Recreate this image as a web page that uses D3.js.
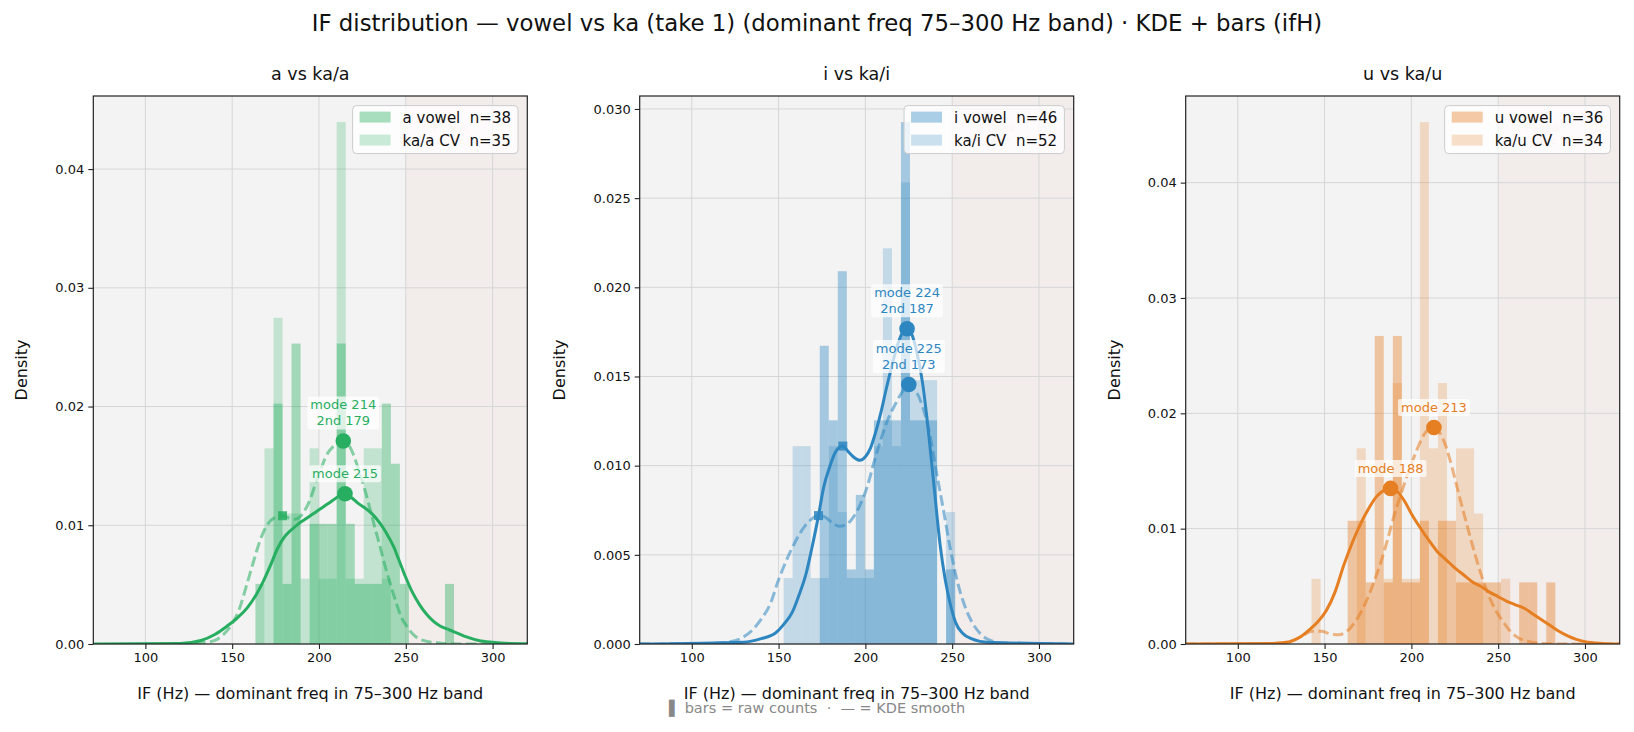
<!DOCTYPE html>
<html>
<head>
<meta charset="utf-8">
<script src="https://cdn.jsdelivr.net/npm/d3@7"></script>
<style>
  body { margin: 0; background: #fff; }
  svg { display: block; font-family: "DejaVu Sans", sans-serif; }
</style>
</head>
<body>
<svg id="chart"></svg>
<script>
// Figure size
var width = 1634;
var height = 732;

// Axes boxes (one per panel)
var axLeft = [93.3, 639.7, 1185.7];
var axTop = 96;
var axW = 434;
var axH = 548;

// ---- data ----
var suptitle = "IF distribution \u2014 vowel vs ka (take 1) (dominant freq 75\u2013300 Hz band) \u00b7 KDE + bars (ifH)";
var panelTitles = ["a vs ka/a", "i vs ka/i", "u vs ka/u"];
var vowelNames = ["a vowel", "i vowel", "u vowel"];
var cvNames = ["ka/a CV", "ka/i CV", "ka/u CV"];
var vowelN = [38, 46, 36];
var cvN = [35, 52, 34];
var seriesColors = ["#27ae60", "#2e86c1", "#e67e22"];
var xLabel = "IF (Hz) \u2014 dominant freq in 75\u2013300 Hz band";
var yLabel = "Density";
var footNote = "\u258c bars = raw counts  \u00b7  \u2014 = KDE smooth";

var hzDomain = [70, 320];
var xTicks = [100, 150, 200, 250, 300];
var yTicks = [
  [0, 0.01, 0.02, 0.03, 0.04],
  [0, 0.005, 0.01, 0.015, 0.02, 0.025, 0.03],
  [0, 0.01, 0.02, 0.03, 0.04]
];
var yTickFormat = [".2f", ".3f", ".2f"];
var f1Zone = [250, 320];

// histogram bins (Hz) and raw counts per bin
var binWidth = 5.2;
var binStart = [163.4, 152.9, 142.5];
var vowelCountsA = [1,0,4,1,5,0,2,2,2,5,2,1,1,1,4,3,1,0,0,0,0,1];
var cvCountsA    = [0,3,5,2,2,1,3,1,1,8,1,1,3,3,1,0,0,0,0,0,0,0];
var vowelCountsI = [0,0,0,0,4,3,5,1,2,1,3,3,3,7,3,3,3,0,1];
var cvCountsI    = [1,3,3,1,1,3,2,1,1,1,3,6,3,7,4,4,4,0,2];
var vowelCountsU = [0,0,0,0,2,2,1,5,1,5,1,1,2,0,2,2,1,1,1,1,1,0,0,1,1,0,1];
var cvCountsU    = [1,0,0,0,0,3,0,0,1,4,1,1,8,3,4,0,3,3,2,0,0,1,0,0,0,0,0];

// KDE curves, [Hz, density]
var kdeVowelA = [[70,0],[120,0.00005],[132,0.0003],[140,0.0008],[147,0.0015],[153,0.0022],[159,0.0031],[164,0.0042],[168,0.0053],[172,0.0066],[176,0.0080],[180,0.0090],[184,0.0096],[188,0.0101],[192,0.0105],[196,0.0109],[200,0.0113],[204,0.0117],[208,0.0121],[212,0.0125],[215,0.01266],[219,0.0123],[223,0.0118],[227,0.0114],[231,0.0109],[235,0.0102],[239,0.0093],[243,0.0082],[246,0.0071],[250,0.0056],[254,0.0043],[258,0.0033],[262,0.0025],[266,0.0019],[270,0.0015],[275,0.0012],[280,0.0009],[285,0.0006],[292,0.0003],[300,0.00015],[310,0.00005],[320,0.00002]];
var kdeCvA = [[120,0],[132,0.0001],[140,0.0003],[145,0.0008],[150,0.0017],[154,0.0029],[158,0.0048],[162,0.0068],[166,0.0087],[170,0.0100],[174,0.0106],[179,0.0108],[183,0.0106],[186,0.0105],[189,0.0107],[192,0.0113],[195,0.0122],[198,0.0135],[201,0.0147],[204,0.0158],[208,0.0166],[211,0.0169],[214,0.0171],[217,0.0168],[220,0.0159],[223,0.0146],[226,0.0132],[229,0.0116],[232,0.0099],[235,0.0083],[238,0.0066],[241,0.0051],[244,0.0037],[247,0.0024],[251,0.0014],[255,0.0007],[260,0.0003],[268,0.0001],[280,0],[320,0]];
var kdeVowelI = [[70,0],[130,0.0001],[140,0.0003],[148,0.0006],[153,0.0011],[158,0.0018],[162,0.0028],[166,0.0040],[169,0.0053],[173,0.0072],[176,0.0088],[179,0.0098],[183,0.0108],[187,0.0111],[190,0.0108],[193,0.0105],[197,0.0103],[200,0.0105],[203,0.0110],[206,0.0119],[209,0.0130],[212,0.0143],[215,0.0155],[218,0.0166],[221,0.0174],[224,0.01768],[227,0.0173],[230,0.0162],[233,0.0146],[236,0.0122],[240,0.0084],[243,0.0056],[246,0.0036],[249,0.0022],[252,0.0012],[256,0.0006],[261,0.0003],[270,0.0001],[320,0]];
var kdeCvI = [[70,0],[110,0.00003],[120,0.0001],[128,0.0003],[134,0.0007],[140,0.0014],[145,0.0022],[150,0.0036],[155,0.0048],[160,0.0058],[165,0.0066],[169,0.0070],[173,0.0072],[177,0.0071],[181,0.0068],[185,0.0066],[189,0.0067],[193,0.0071],[197,0.0078],[201,0.0088],[205,0.0102],[209,0.0115],[213,0.0126],[217,0.0134],[221,0.0141],[225,0.01455],[229,0.0142],[233,0.0133],[237,0.0118],[241,0.0096],[245,0.0075],[249,0.0053],[253,0.0035],[257,0.0022],[261,0.0013],[266,0.0006],[272,0.0002],[280,0.00005],[320,0]];
var kdeVowelU = [[70,0],[120,0.00005],[130,0.0002],[136,0.0006],[141,0.0012],[146,0.0019],[151,0.0029],[156,0.0045],[161,0.0068],[166,0.0088],[171,0.0105],[176,0.0119],[180,0.0128],[184,0.0133],[188,0.01349],[192,0.0132],[196,0.0124],[200,0.0113],[205,0.0101],[210,0.0090],[215,0.0080],[220,0.0073],[225,0.0066],[230,0.0060],[235,0.0054],[240,0.0050],[245,0.0045],[250,0.0041],[255,0.0037],[260,0.0034],[265,0.0031],[270,0.0026],[275,0.0021],[280,0.0016],[285,0.0011],[290,0.0007],[295,0.0004],[300,0.0002],[310,0.00005],[320,0]];
var kdeCvU = [[70,0],[110,0.00002],[125,0.0001],[133,0.0004],[138,0.0008],[143,0.0011],[148,0.0011],[153,0.0009],[158,0.0008],[162,0.0010],[166,0.0016],[170,0.0025],[174,0.0037],[178,0.0052],[182,0.0069],[186,0.0089],[190,0.0111],[194,0.0130],[198,0.0148],[202,0.0164],[206,0.0178],[209,0.0185],[213,0.01877],[216,0.0184],[219,0.0175],[222,0.0161],[225,0.0144],[228,0.0126],[231,0.0109],[234,0.0092],[237,0.0076],[240,0.0061],[243,0.0048],[246,0.0037],[249,0.0028],[253,0.0019],[257,0.0011],[262,0.0005],[268,0.0002],[275,0.00005],[285,0],[320,0]];

// modes (Hz) of each KDE, and secondary peaks (null = none)
var modeVowel = [215, 224, 188];
var secondVowel = [null, 187, null];
var modeCv = [214, 225, 213];
var secondCv = [179, 173, null];

var vowelCounts = [vowelCountsA, vowelCountsI, vowelCountsU];
var cvCounts = [cvCountsA, cvCountsI, cvCountsU];
var kdeVowel = [kdeVowelA, kdeVowelI, kdeVowelU];
var kdeCv = [kdeCvA, kdeCvI, kdeCvU];

// Appends SVG canvas
var svg = d3.select("#chart")
    .attr("width", width)
    .attr("height", height);

svg.append("rect").attr("width", width).attr("height", height).attr("fill", "#fff");

svg.append("text")
    .attr("x", 817).attr("y", 31)
    .attr("text-anchor", "middle")
    .style("font-size", "22.8px")
    .attr("fill", "#111")
    .text(suptitle);

// Turns counts into density bars (count / (n * binWidth))
function toBars(counts, start, n) {
  var bars = [];
  for (var k = 0; k < counts.length; k++) {
    if (counts[k] > 0) {
      bars.push({x0: start + k * binWidth, x1: start + (k + 1) * binWidth, d: counts[k] / (n * binWidth)});
    }
  }
  return bars;
}

// Looks up density of a KDE at a given Hz
function kdeAt(kde, hz) {
  for (var k = 1; k < kde.length; k++) {
    if (kde[k][0] >= hz) {
      var a = kde[k - 1], b = kde[k];
      return a[1] + (b[1] - a[1]) * (hz - a[0]) / (b[0] - a[0]);
    }
  }
  return 0;
}

// Writes a (multi-line) label with a white box, bottom line just over the point
function boxedLabel(g, lines, cx, cy, color) {
  var lg = g.append("g");
  var t = lg.append("text")
      .attr("text-anchor", "middle")
      .style("font-size", "13px")
      .attr("fill", color);
  lines.forEach(function(s, j) {
    t.append("tspan")
      .attr("x", cx)
      .attr("y", cy - 15.5 - (lines.length - 1 - j) * 16)
      .text(s);
  });
  var bb = t.node().getBBox();
  lg.insert("rect", "text")
      .attr("x", bb.x - 3).attr("y", bb.y - 1)
      .attr("width", bb.width + 6).attr("height", bb.height + 2)
      .attr("rx", 2)
      .attr("fill", "#fff").attr("fill-opacity", 0.72);
}

for (var p = 0; p < 3; p++) {
  drawPanel(p);
}

function drawPanel(p) {
  var color = seriesColors[p];
  var vBars = toBars(vowelCounts[p], binStart[p], vowelN[p]);
  var cBars = toBars(cvCounts[p], binStart[p], cvN[p]);
  var yMax = 1.05 * d3.max(vBars.concat(cBars), function(b) { return b.d; });

  var x = d3.scaleLinear().domain(hzDomain).range([0, axW]);
  var y = d3.scaleLinear().domain([0, yMax]).range([axH, 0]);

  var g = svg.append("g").attr("transform", "translate(" + axLeft[p] + "," + axTop + ")");

  g.append("clipPath").attr("id", "clip" + p)
    .append("rect").attr("width", axW).attr("height", axH);

  g.append("rect").attr("width", axW).attr("height", axH).attr("fill", "#f3f3f3");

  // F1 risk zone
  g.append("rect")
      .attr("x", x(f1Zone[0])).attr("width", x(f1Zone[1]) - x(f1Zone[0]))
      .attr("height", axH)
      .attr("fill", "#e74c3c").attr("fill-opacity", 0.04);

  // grid
  g.selectAll(".gx").data(xTicks).enter().append("line")
      .attr("x1", function(d) { return x(d); }).attr("x2", function(d) { return x(d); })
      .attr("y1", 0).attr("y2", axH)
      .attr("stroke", "#d6d6d6").attr("stroke-width", 1);
  g.selectAll(".gy").data(yTicks[p]).enter().append("line")
      .attr("x1", 0).attr("x2", axW)
      .attr("y1", function(d) { return y(d); }).attr("y2", function(d) { return y(d); })
      .attr("stroke", "#d6d6d6").attr("stroke-width", 1);

  var zoneText = g.append("text")
      .attr("text-anchor", "middle")
      .style("font-size", "11px")
      .attr("fill", "#e74c3c").attr("fill-opacity", 0.22);
  zoneText.append("tspan").attr("x", x(276)).attr("y", 36).text("F1 risk");
  zoneText.append("tspan").attr("x", x(276)).attr("y", 48).text("zone");

  var plot = g.append("g").attr("clip-path", "url(#clip" + p + ")");

  // bars
  plot.selectAll(".vbar").data(vBars).enter().append("rect")
      .attr("x", function(b) { return x(b.x0); })
      .attr("width", function(b) { return x(b.x1) - x(b.x0); })
      .attr("y", function(b) { return y(b.d); })
      .attr("height", function(b) { return axH - y(b.d); })
      .attr("fill", color).attr("fill-opacity", 0.4);
  plot.selectAll(".cbar").data(cBars).enter().append("rect")
      .attr("x", function(b) { return x(b.x0); })
      .attr("width", function(b) { return x(b.x1) - x(b.x0); })
      .attr("y", function(b) { return y(b.d); })
      .attr("height", function(b) { return axH - y(b.d); })
      .attr("fill", color).attr("fill-opacity", 0.24);

  // KDE lines
  var line = d3.line()
      .x(function(d) { return x(d[0]); })
      .y(function(d) { return y(d[1]); })
      .curve(d3.curveMonotoneX);

  plot.append("path").datum(kdeCv[p])
      .attr("d", line)
      .attr("fill", "none")
      .attr("stroke", color).attr("stroke-opacity", 0.55)
      .attr("stroke-width", 3)
      .attr("stroke-dasharray", "10.5,4.5");
  plot.append("path").datum(kdeVowel[p])
      .attr("d", line)
      .attr("fill", "none")
      .attr("stroke", color)
      .attr("stroke-width", 3);

  // secondary peaks
  [[secondVowel[p], kdeVowel[p]], [secondCv[p], kdeCv[p]]].forEach(function(s) {
    if (s[0] === null) return;
    g.append("rect")
        .attr("x", x(s[0]) - 4.5).attr("y", y(kdeAt(s[1], s[0])) - 4.5)
        .attr("width", 9).attr("height", 9)
        .attr("fill", color).attr("fill-opacity", 0.85);
  });

  // mode dots with labels
  var marks = [
    {hz: modeVowel[p], kde: kdeVowel[p], second: secondVowel[p]},
    {hz: modeCv[p], kde: kdeCv[p], second: secondCv[p]}
  ];
  marks.forEach(function(m) {
    var cx = x(m.hz), cy = y(kdeAt(m.kde, m.hz));
    g.append("circle").attr("cx", cx).attr("cy", cy).attr("r", 7.8).attr("fill", color);
    var lines = ["mode " + m.hz];
    if (m.second !== null) lines.push("2nd " + m.second);
    boxedLabel(g, lines, cx, cy, color);
  });

  // frame
  g.append("rect").attr("width", axW).attr("height", axH)
      .attr("fill", "none").attr("stroke", "#222").attr("stroke-width", 1.2);

  // axes
  var xAxis = g.append("g").attr("transform", "translate(0," + axH + ")")
      .call(d3.axisBottom(x).tickValues(xTicks).tickSize(5).tickPadding(4));
  var yAxis = g.append("g")
      .call(d3.axisLeft(y).tickValues(yTicks[p]).tickFormat(d3.format(yTickFormat[p])).tickSize(5).tickPadding(4));
  [xAxis, yAxis].forEach(function(a) {
    a.select(".domain").remove();
    a.selectAll("line").attr("stroke", "#222").attr("stroke-width", 1.1);
    a.selectAll("text").attr("fill", "#111").style("font-size", "13px").style("font-family", "DejaVu Sans, sans-serif");
  });

  var tickW = d3.max(yAxis.selectAll("text").nodes(), function(n) { return n.getBBox().width; });

  g.append("text")
      .attr("transform", "translate(" + (-9 - tickW - 28) + "," + (axH / 2) + ") rotate(-90)")
      .attr("text-anchor", "middle")
      .style("font-size", "16px")
      .attr("fill", "#111")
      .text(yLabel);

  g.append("text")
      .attr("x", axW / 2).attr("y", axH + 55)
      .attr("text-anchor", "middle")
      .style("font-size", "16px")
      .attr("fill", "#111")
      .text(xLabel);

  g.append("text")
      .attr("x", axW / 2).attr("y", -16)
      .attr("text-anchor", "middle")
      .style("font-size", "17.5px")
      .attr("fill", "#111")
      .text(panelTitles[p]);

  // legend
  var leg = g.append("g");
  var legBox = leg.append("rect")
      .attr("rx", 4)
      .attr("fill", "#fff").attr("fill-opacity", 0.8)
      .attr("stroke", "#ccc").attr("stroke-width", 1);
  var rows = [
    {label: vowelNames[p] + "  n=" + vowelN[p], op: 0.4},
    {label: cvNames[p] + "  n=" + cvN[p], op: 0.24}
  ];
  var legItems = leg.selectAll(".li").data(rows).enter().append("g")
      .attr("transform", function(d, j) { return "translate(0," + (j * 23) + ")"; });
  legItems.append("rect")
      .attr("x", 7).attr("y", 6).attr("width", 31).attr("height", 11)
      .attr("fill", color).attr("fill-opacity", function(d) { return d.op; });
  legItems.append("text")
      .attr("x", 50).attr("y", 17)
      .style("font-size", "15px")
      .style("white-space", "pre")
      .attr("fill", "#111")
      .text(function(d) { return d.label; });
  var lw = d3.max(legItems.selectAll("text").nodes(), function(n) { return n.getBBox().width; }) + 57;
  legBox.attr("width", lw).attr("height", 48);
  leg.attr("transform", "translate(" + (axW - 9.3 - lw) + ",9.6)");
}

svg.append("text")
    .attr("x", 817).attr("y", 712.5)
    .attr("text-anchor", "middle")
    .style("font-size", "14.5px")
    .style("white-space", "pre")
    .attr("fill", "#888")
    .text(footNote);
</script>
</body>
</html>
